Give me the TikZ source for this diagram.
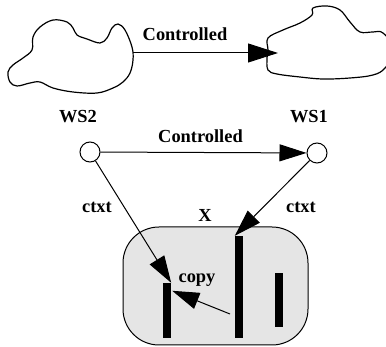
\documentclass[tikz,border=0pt]{standalone}
\usepackage{fontspec}
\setmainfont{Liberation Serif}
\usetikzlibrary{arrows.meta,calc}
\begin{document}
\begin{tikzpicture}[x=1pt,y=-1pt,
  lbl/.style={font=\fontsize{18.4}{20}\selectfont\bfseries, inner sep=0pt, anchor=base},
  wsnode/.style={circle, draw, line width=1pt, minimum size=20pt, inner sep=0pt, fill=white},
  bar/.style={fill=black, inner sep=0pt, minimum width=8pt},
  con/.style={line width=1pt, -{Triangle[length=27pt,width=17pt]}},
  bigcon/.style={line width=1pt, -{Triangle[length=30pt,width=19pt]}},
  cloudline/.style={line width=1.2pt}]
\useasboundingbox (0,0) rectangle (386,347);
% clouds
\draw[cloudline] plot[smooth cycle, tension=0.6] coordinates{
 (8,72) (13,65) (23,58) (32,50) (33,37) (40,27) (53,20) (67,22) (73,28) (77,35)
 (87,39) (100,43) (107,38) (112,28) (118,24) (125,30) (132,47) (133,60) (130,73)
 (123,82) (113,88) (97,93) (73,92) (53,88) (40,82) (30,83) (17,86) (10,82)};
\draw[cloudline] plot[smooth cycle, tension=0.6] coordinates{
 (313,8) (327,6) (340,10) (350,22) (360,32) (373,32) (383,33) (395,50)
 (385,68) (373,75) (350,78) (323,79) (300,77) (277,74) (268,70) (267,58)
 (268,50) (268,38) (283,30) (300,23) (312,15)};
\coordinate (c2e) at (133,53);
\coordinate (c1w) at (278,53);
\draw[bigcon] (c2e) -- (c1w);
\node[lbl] (lc1) at (185,41) {Controlled};
% lower part
\node[draw, line width=1pt, fill=gray!20, rounded corners=36pt, minimum width=185pt,
  minimum height=118pt, inner sep=0pt] (box) at (215.5,286) {};
\node[bar, minimum height=55pt] (bar1) at (167,310.5) {};
\node[bar, minimum height=102pt] (bar2) at (239,287) {};
\node[bar, minimum height=54pt] (bar3) at (279,300) {};
\node[wsnode] (ws2) at (90,152) {};
\node[wsnode] (ws1) at (317,153) {};
\draw[con] (ws2) -- (ws1);
\draw[con] (ws2) -- (bar1.north east);
\draw[con] (ws1) -- (bar2.north west);
\coordinate (cpt) at (230,314);
\draw[con] (cpt) -- ($(bar1.north east)+(1,8)$);
\node[lbl] (lws2) at (78,123) {WS2};
\node[lbl] (lws1) at (309,123) {WS1};
\node[lbl] (lc2) at (200.5,143) {Controlled};
\node[lbl] (lctl) at (97,213) {ctxt};
\node[lbl] (lctr) at (301,213) {ctxt};
\node[lbl] (lx) at (205,222) {X};
\node[lbl] (lcopy) at (197,283) {copy};
\end{tikzpicture}
\end{document}
